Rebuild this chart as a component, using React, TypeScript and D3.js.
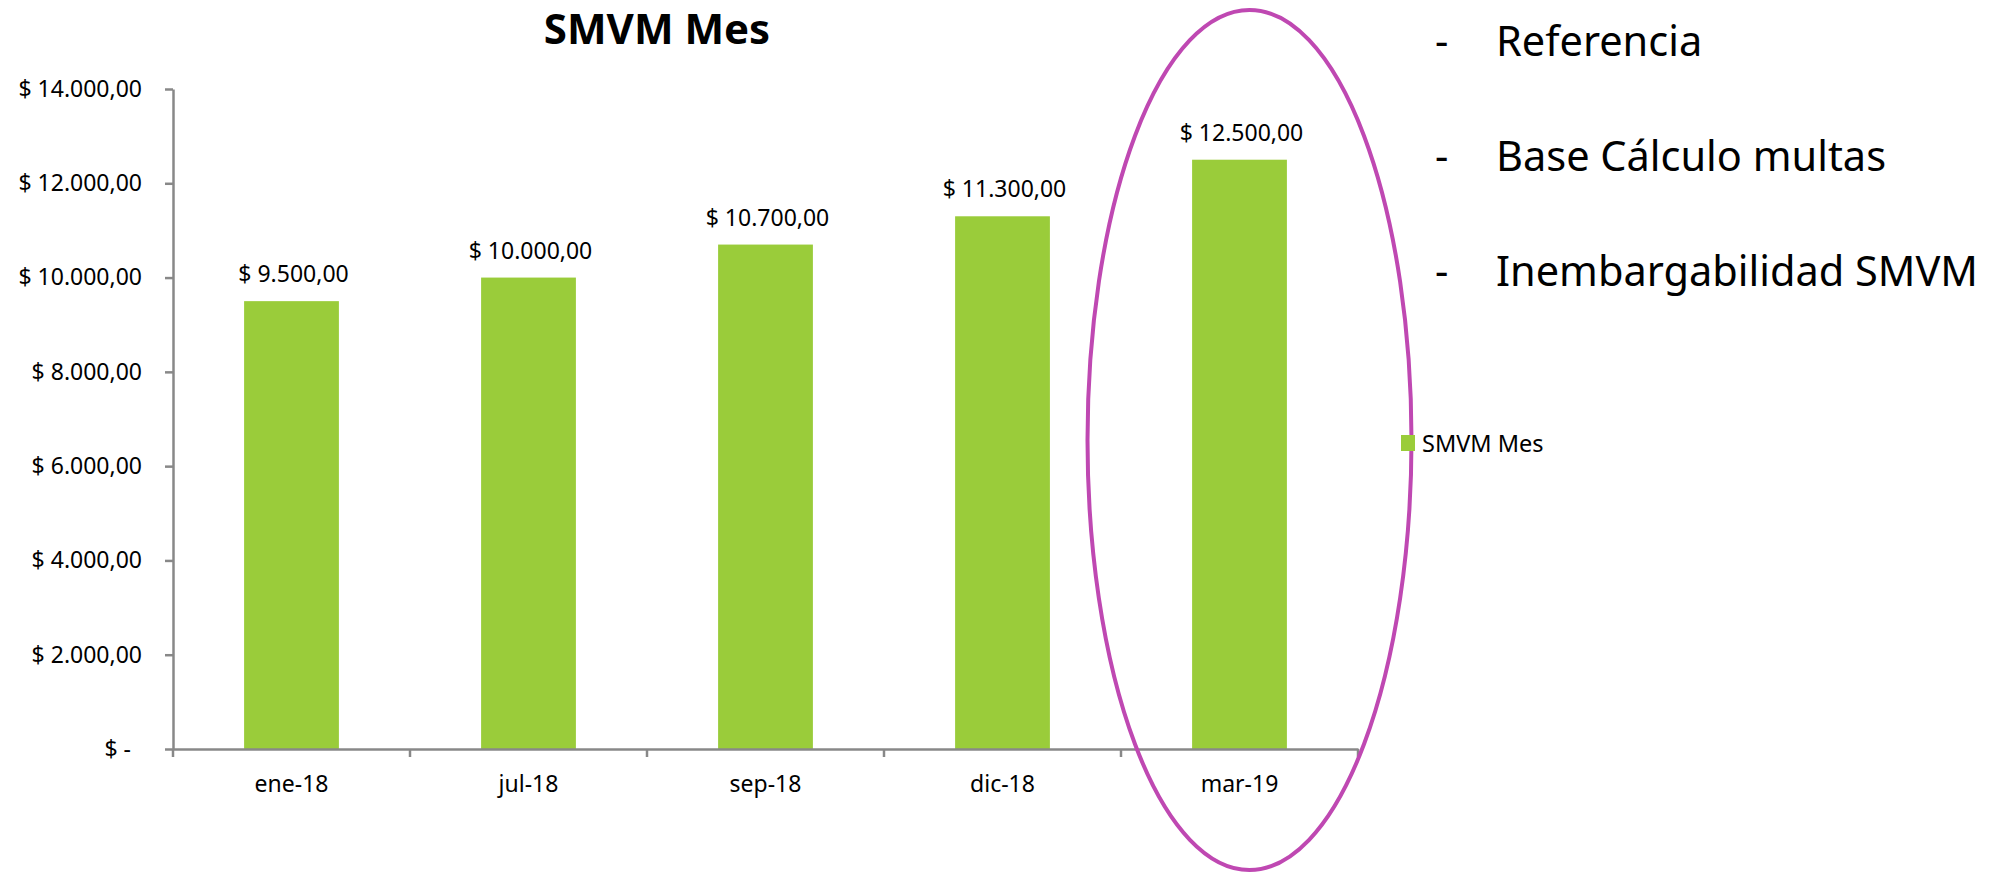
/**
 * SMVM Mes - D3 bar chart of monthly minimum wage values
 */

import { useEffect, useRef } from "react";
import * as d3 from "d3";

const months = ["ene-18", "jul-18", "sep-18", "dic-18", "mar-19"];
const smvmValues = [9500, 10000, 10700, 11300, 12500];
const yTicks = [0, 2000, 4000, 6000, 8000, 10000, 12000, 14000];
const notes = ["Referencia", "Base Cálculo multas", "Inembargabilidad SMVM"];
const seriesName = "SMVM Mes";
const highlighted = "mar-19";

const WIDTH = 2002;
const HEIGHT = 873;
const FONT = "'Noto Sans', 'Open Sans', sans-serif";
const GREEN = "#9ACC3A";
const AXIS = "#888888";

// "$ 12.500,00" style, Excel accounting
const money = (v: number) =>
  v === 0
    ? "$ -"
    : "$ " +
      d3
        .format(",.2f")(v)
        .replace(/,/g, "#")
        .replace(".", ",")
        .replace(/#/g, ".");

export default function App() {
  const svgRef = useRef<SVGSVGElement>(null);

  useEffect(() => {
    document.body.style.margin = "0";
    if (!svgRef.current) return;

    const svg = d3.select(svgRef.current);
    svg.selectAll("*").remove();

    const margin = { top: 89, left: 173, right: 644, bottom: 124 };
    const x0 = margin.left;
    const x1 = WIDTH - margin.right;
    const yBase = HEIGHT - margin.bottom;

    const xScale = d3.scaleBand<string>().domain(months).range([x0, x1]);
    const yScale = d3.scaleLinear().domain([0, 14000]).range([yBase, margin.top]);

    const barW = xScale.bandwidth() * 0.4;

    // Title
    svg
      .append("text")
      .attr("x", 657)
      .attr("y", 44)
      .attr("text-anchor", "middle")
      .attr("font-family", FONT)
      .attr("font-weight", "bold")
      .attr("font-size", "42px")
      .attr("fill", "#000")
      .text(seriesName);

    // Bars
    svg
      .append("g")
      .selectAll("rect")
      .data(months)
      .join("rect")
      .attr("x", (d) => (xScale(d) as number) + (xScale.bandwidth() - barW) / 2)
      .attr("y", (_, i) => yScale(smvmValues[i]))
      .attr("width", barW)
      .attr("height", (_, i) => yBase - yScale(smvmValues[i]))
      .attr("fill", GREEN);

    // Data labels
    svg
      .append("g")
      .selectAll("text")
      .data(months)
      .join("text")
      .attr("x", (d) => (xScale(d) as number) + xScale.bandwidth() / 2 + 2)
      .attr("y", (_, i) => yScale(smvmValues[i]) - 19)
      .attr("text-anchor", "middle")
      .attr("font-family", FONT)
      .attr("font-size", "23px")
      .attr("fill", "#000")
      .text((_, i) => money(smvmValues[i]));

    // Y axis
    const yAxis = svg
      .append("g")
      .attr("transform", `translate(${x0},0)`)
      .call(
        d3
          .axisLeft(yScale)
          .tickValues(yTicks)
          .tickSize(8)
          .tickSizeOuter(0)
          .tickPadding(23)
          .tickFormat((d) => money(d as number))
      );
    yAxis.selectAll("text")
      .attr("font-family", FONT)
      .attr("font-size", "23px")
      .attr("fill", "#000")
      .attr("dx", (d) => ((d as number) === 0 ? -11 : 0));

    // X axis: labels at band centres, ticks at band boundaries
    const xAxis = svg
      .append("g")
      .attr("transform", `translate(0,${yBase})`)
      .call(d3.axisBottom(xScale).tickSize(0).tickSizeOuter(0));
    xAxis.selectAll("text")
      .attr("y", 43)
      .attr("dy", 0)
      .attr("font-family", FONT)
      .attr("font-size", "23px")
      .attr("fill", "#000");
    xAxis
      .selectAll(".boundary")
      .data([...months.map((m) => xScale(m) as number), x1])
      .join("line")
      .attr("class", "boundary")
      .attr("x1", (d) => d)
      .attr("x2", (d) => d)
      .attr("y1", 0)
      .attr("y2", 8);

    svg.selectAll(".domain, .tick line, .boundary")
      .attr("stroke", AXIS)
      .attr("stroke-width", 2.5);

    // Highlight ellipse around the last month
    const hx = (xScale(highlighted) as number) + xScale.bandwidth() / 2 + 10;
    svg
      .append("ellipse")
      .attr("cx", hx)
      .attr("cy", 440)
      .attr("rx", 162)
      .attr("ry", 430)
      .attr("fill", "none")
      .attr("stroke", "#BF48B2")
      .attr("stroke-width", 4);

    // Legend
    svg
      .append("rect")
      .attr("x", 1401)
      .attr("y", 435)
      .attr("width", 14)
      .attr("height", 16)
      .attr("fill", GREEN);
    svg
      .append("text")
      .attr("x", 1422)
      .attr("y", 452)
      .attr("font-family", FONT)
      .attr("font-size", "23.5px")
      .attr("fill", "#000")
      .text(seriesName);

    // Bullet notes on the right
    const noteG = svg.append("g").attr("font-family", FONT).attr("font-size", "41.5px").attr("fill", "#000");
    notes.forEach((n, i) => {
      const y = 56 + i * 115;
      noteG.append("text").attr("x", 1435).attr("y", y).text("-");
      noteG.append("text").attr("x", 1496).attr("y", y).text(n);
    });
  }, []);

  return (
    <svg
      ref={svgRef}
      width={WIDTH}
      height={HEIGHT}
      viewBox={`0 0 ${WIDTH} ${HEIGHT}`}
      style={{ display: "block", background: "#fff" }}
    />
  );
}
